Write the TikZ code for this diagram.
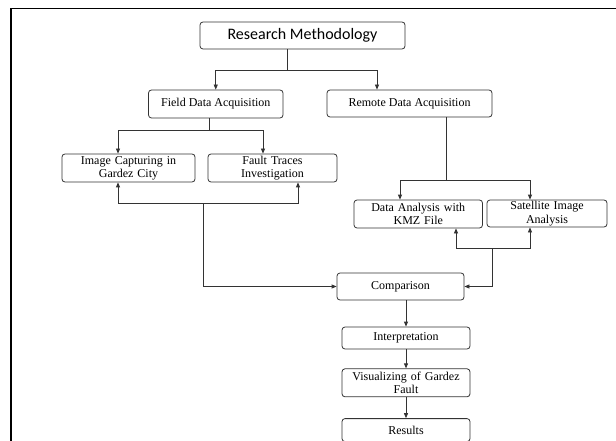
\documentclass[tikz,border=0pt]{standalone}
\usepackage{fontspec}
\setmainfont{Liberation Serif}
\newfontfamily\califont{Carlito}
\usetikzlibrary{arrows.meta,positioning}
\tikzstyle{box}=[rectangle,rounded corners=3pt,draw=black!80,line width=.8pt,
               align=center,inner sep=1pt,font=\fontsize{12}{13.3}\selectfont]
\tikzstyle{arrow}=[-{Triangle[length=5pt,width=4pt]},draw=black!80,line width=.8pt]
\tikzstyle{wire}=[draw=black!80,line width=.8pt]

\begin{document}
\begin{tikzpicture}[x=1pt,y=-1pt]
	\useasboundingbox (0,0) rectangle (616,441);
	\draw[line width=1.5pt] (11,441) -- (11,8.5) -- (616,8.5);

	\node[box,minimum width=205pt,minimum height=27pt,
	      font=\califont\fontsize{16}{17}\selectfont] (research) at (302.5,35.5) {Research Methodology};
	\node[box,minimum width=134.5pt,minimum height=28pt] (field) at (215.75,104) {Field Data Acquisition};
	\node[box,minimum width=165pt,minimum height=27pt] (remote) at (409.5,103.5) {Remote Data Acquisition};
	\node[box,minimum width=133pt,minimum height=28pt,text width=125pt] (image) at (128.5,168) {Image Capturing in\\Gardez City};
	\node[box,minimum width=129pt,minimum height=28pt,text width=121pt] (fault) at (272.5,168) {Fault Traces\\Investigation};
	\node[box,minimum width=128.5pt,minimum height=28pt,text width=120pt] (dataan) at (418.25,214) {Data Analysis with\\KMZ File};
	\node[box,minimum width=120pt,minimum height=27pt,text width=112pt] (sat) at (547,213.5) {Satellite Image\\Analysis};
	\node[box,minimum width=127pt,minimum height=27pt] (comp) at (400.5,286.5) {Comparison};
	\node[box,minimum width=128pt,minimum height=22pt] (interp) at (406,338) {Interpretation};
	\node[box,minimum width=128pt,minimum height=28pt,text width=120pt,below=19pt of interp] (visual) {Visualizing of Gardez\\Fault};
	\node[box,minimum width=128pt,minimum height=23pt,below=21pt of visual] (results) {Results};

	% splits
	\coordinate (s1) at (287,70);
	\coordinate (s2) at (209,130.7);
	\coordinate (s3) at (446,180);
	\draw[wire] (research.south -| s1) -- (s1);
	\draw[arrow] (s1) -| (field);
	\draw[arrow] (s1) -| ([xshift=-32.5pt]remote.north);
	\draw[wire] (field.south -| s2) -- (s2);
	\draw[arrow] (s2) -| ([xshift=-10.5pt]image.north);
	\draw[arrow] (s2) -| ([xshift=-9.5pt]fault.north);
	\draw[wire] (remote.south -| s3) -- (s3);
	\draw[arrow] (s3) -| ([xshift=-18.25pt]dataan.north);
	\draw[arrow] (s3) -| ([xshift=-17pt]sat.north);

	% feedback to comparison
	\coordinate (f1) at (203,203);
	\coordinate (f2) at (492,248);
	\draw[arrow] (f1) |- (comp.west);
	\draw[arrow] (f1) -| ([xshift=-10.5pt]image.south);
	\draw[arrow] (f1) -| ([xshift=25.5pt]fault.south);
	\draw[arrow] (f2) |- (comp.east);
	\draw[arrow] (f2) -| ([xshift=37.75pt]dataan.south);
	\draw[arrow] (f2) -| ([xshift=-17pt]sat.south);

	\draw[arrow] (comp.south -| interp) -- (interp);
	\draw[arrow] (interp) -- (visual);
	\draw[arrow] (visual) -- (results);
\end{tikzpicture}
\end{document}
